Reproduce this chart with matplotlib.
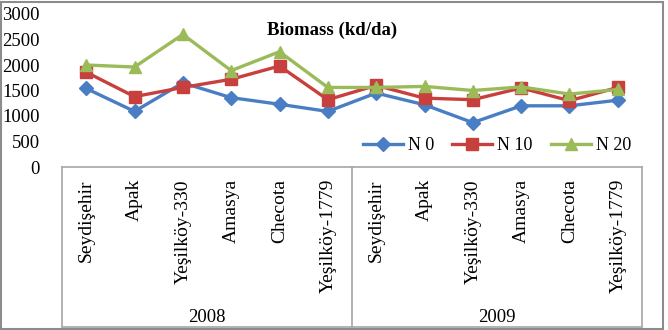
import matplotlib
matplotlib.use("Agg")
import matplotlib.pyplot as plt
from matplotlib.lines import Line2D
from matplotlib.patches import Rectangle

categories = ["Seydişehir", "Apak", "Yeşilköy-330", "Amasya", "Checota", "Yeşilköy-1779",
              "Seydişehir", "Apak", "Yeşilköy-330", "Amasya", "Checota", "Yeşilköy-1779"]
years = ["2008", "2009"]
n0 = [1540, 1090, 1650, 1360, 1230, 1090, 1450, 1220, 870, 1200, 1200, 1310]
n10 = [1860, 1380, 1560, 1720, 1980, 1320, 1600, 1350, 1320, 1550, 1300, 1560]
n20 = [2000, 1960, 2600, 1890, 2260, 1560, 1560, 1580, 1500, 1570, 1430, 1520]
series_names = ["N 0", "N 10", "N 20"]
yticks = [0, 500, 1000, 1500, 2000, 2500, 3000]

W, H = 668, 330
fig = plt.figure(figsize=(W / 100, H / 100), dpi=100)
plt.rcParams['font.family'] = ['Liberation Serif', 'DejaVu Serif']

ax_l, ax_r = 62, 642
y0_px, y3000_px = 167, 14
ax = fig.add_axes([ax_l / W, 1 - y0_px / H, (ax_r - ax_l) / W, (y0_px - y3000_px) / H])

x = list(range(len(categories)))
colors = ["#4A7EC4", "#C8403D", "#9BBB59"]
markers = ["D", "s", "^"]
msizes = [7, 9, 9]
for vals, c, m, ms, name in zip([n0, n10, n20], colors, markers, msizes, series_names):
    ax.plot(x, vals, color=c, marker=m, markersize=ms, linewidth=2.4, label=name,
            markeredgecolor=c, clip_on=False)

ax.set_xlim(-0.5, len(categories) - 0.5)
ax.set_ylim(0, 3000)
ax.set_yticks(yticks)
ax.set_yticklabels([str(v) for v in yticks], fontsize=13.5)
ax.tick_params(axis='y', length=0, pad=16)
ax.set_xticks([])
for s in ["left", "right", "top"]:
    ax.spines[s].set_visible(False)
ax.spines["bottom"].set_color("#A6A6A6")
ax.spines["bottom"].set_linewidth(1.2)

# category box lines
ph = y0_px - y3000_px
bottom_ax = -(327 - y0_px) / ph
gray = "#A6A6A6"
tr = ax.get_xaxis_transform()
for xv in [-0.5, 5.5, 11.5]:
    ax.add_line(Line2D([xv, xv], [0, bottom_ax], transform=tr, color=gray, lw=1.2, clip_on=False))
ax.add_line(Line2D([-0.5, 11.5], [bottom_ax, bottom_ax], transform=tr, color=gray, lw=1.2, clip_on=False))

lab_top = -(179 - y0_px) / ph
for xi, cat in zip(x, categories):
    ax.text(xi, lab_top, cat, transform=tr, rotation=90, ha='center', va='top', fontsize=14)
year_y = -(318 - y0_px) / ph
for i, yr in enumerate(years):
    ax.text(2.5 + 6 * i, year_y, yr, transform=tr, ha='center', va='center', fontsize=13.5)

fig.text(332 / W, 1 - 30 / H, "Biomass (kd/da)", ha='center', va='center', fontsize=13.5, fontweight='bold')

leg = ax.legend(loc='center', bbox_to_anchor=((497 - ax_l) / (ax_r - ax_l), (y0_px - 146) / ph),
                ncol=3, frameon=False, fontsize=13, handlelength=2.2, columnspacing=1.0,
                handletextpad=0.3)

fig.patches.append(Rectangle((1 / W, 1 / H), 662 / W, 327 / H, transform=fig.transFigure,
                             fill=False, edgecolor="#8C8C8C", lw=1.5))

fig.savefig("out.png", dpi=100)
